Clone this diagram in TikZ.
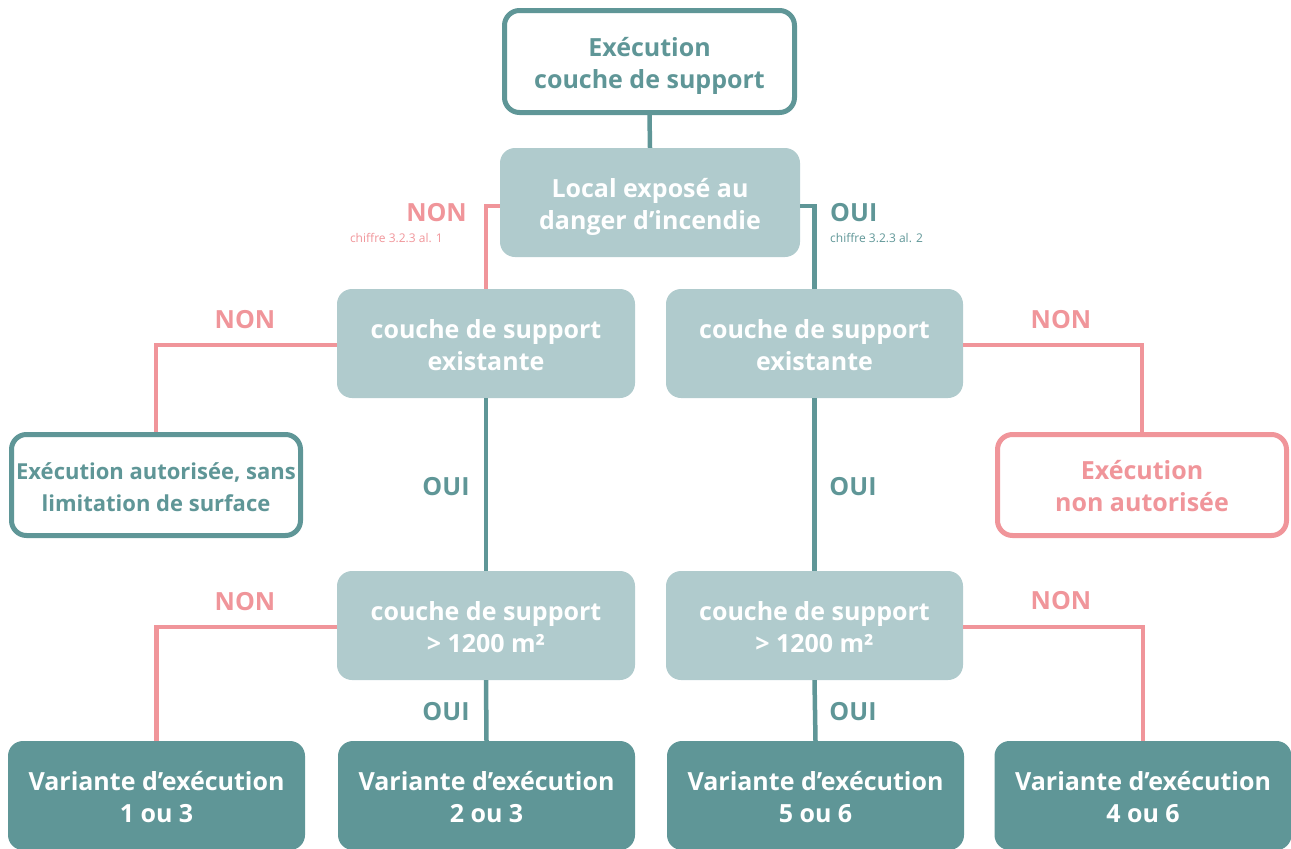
\documentclass[tikz,border=0pt]{standalone}
\usepackage{fontspec}
\setmainfont{Open Sans}
\definecolor{tealD}{HTML}{5F9697}
\definecolor{tealL}{HTML}{B0CBCD}
\definecolor{pinkC}{HTML}{F0959A}
\newcommand{\twoline}[2]{\rule{0pt}{28pt}#1\\#2\rule[-7pt]{0pt}{7pt}}
\begin{document}
\begin{tikzpicture}[x=1pt,y=-1pt,
  boxbase/.style={rectangle, rounded corners=15pt, align=center, inner sep=0pt,
    font=\fontsize{25}{32}\selectfont\bfseries},
  outlinebox/.style={boxbase, draw=tealD, line width=5pt, fill=white, text=tealD,
    minimum width=289pt, minimum height=101pt},
  questionbox/.style={boxbase, fill=tealL, text=white,
    minimum width=298pt, minimum height=109pt},
  resultbox/.style={boxbase, fill=tealD, text=white,
    minimum width=297pt, minimum height=109pt},
  pinkline/.style={draw=pinkC, line width=4.5pt},
  tealline/.style={draw=tealD, line width=4.5pt},
  lbl/.style={font=\fontsize{25}{30}\selectfont\bfseries, inner sep=0pt},
  small/.style={font=\fontsize{12}{14}\selectfont, inner sep=0pt}
]
\useasboundingbox (0,0) rectangle (1291,849);

% nodes
\node[outlinebox, minimum width=290pt, minimum height=102pt] (top) at (649.5,61.5) {\twoline{Exécution}{couche de support}};
\node[questionbox, minimum width=300pt] (local) at (650,202.5) {\twoline{Local exposé au}{danger d’incendie}};
\node[questionbox] (ex1) at (486,343.5) {\twoline{couche de support}{existante}};
\node[questionbox, minimum width=297pt] (ex2) at (814.5,343.5) {\twoline{couche de support}{existante}};
\node[outlinebox, font=\fontsize{22}{32}\selectfont\bfseries] (aut) at (156,485) {\twoline{Exécution autorisée, sans}{limitation de surface}};
\node[outlinebox, draw=pinkC, text=pinkC] (nonaut) at (1142,485) {\twoline{Exécution}{non autorisée}};
\node[questionbox] (s1) at (486,625.5) {\twoline{couche de support}{> 1200 m²}};
\node[questionbox, minimum width=297pt] (s2) at (814.5,625.5) {\twoline{couche de support}{> 1200 m²}};
\node[resultbox] (v1) at (156.5,795.5) {\twoline{Variante d’exécution}{1 ou 3}};
\node[resultbox] (v2) at (486.5,795.5) {\twoline{Variante d’exécution}{2 ou 3}};
\node[resultbox] (v3) at (815.5,795.5) {\twoline{Variante d’exécution}{5 ou 6}};
\node[resultbox] (v4) at (1143,795.5) {\twoline{Variante d’exécution}{4 ou 6}};

% connectors
\draw[tealline] (top.south) -- (local.north);
\draw[pinkline] ([yshift=-3.5pt]local.west) -| (ex1.north);
\draw[tealline] ([yshift=-3.5pt]local.east) -| (ex2.north);
\draw[pinkline] ([yshift=-1.5pt]ex1.west) -| (aut.north);
\draw[pinkline] ([yshift=-1.5pt]ex2.east) -| (nonaut.north);
\draw[tealline] (ex1.south) -- (s1.north);
\draw[tealline] (ex2.south) -- (s2.north);
\draw[pinkline] ([yshift=-1.5pt]s1.west) -| (v1.north);
\draw[tealline] (s1.south) -- (v2.north);
\draw[tealline] (s2.south) -- (v3.north);
\draw[pinkline] ([yshift=-1.5pt]s2.east) -| (v4.north);

% labels
\node[lbl, text=pinkC, anchor=east] (n0) at (467,213) {NON};
\node[small, text=pinkC, anchor=east] (c0) at (443,238) {chiffre 3.2.3 al. 1};
\node[lbl, text=tealD, anchor=west] (o0) at (830,213) {OUI};
\node[small, text=tealD, anchor=west] (c1) at (830,238) {chiffre 3.2.3 al. 2};
\node[lbl, text=pinkC] (n1) at (245,320) {NON};
\node[lbl, text=pinkC] (n2) at (1061,320) {NON};
\node[lbl, text=pinkC] (n3) at (245,602) {NON};
\node[lbl, text=pinkC] (n4) at (1061,601) {NON};
\node[lbl, text=tealD] (o1) at (446,487) {OUI};
\node[lbl, text=tealD] (o2) at (853,487) {OUI};
\node[lbl, text=tealD] (o3) at (446,712) {OUI};
\node[lbl, text=tealD] (o4) at (853,712) {OUI};
\end{tikzpicture}
\end{document}
